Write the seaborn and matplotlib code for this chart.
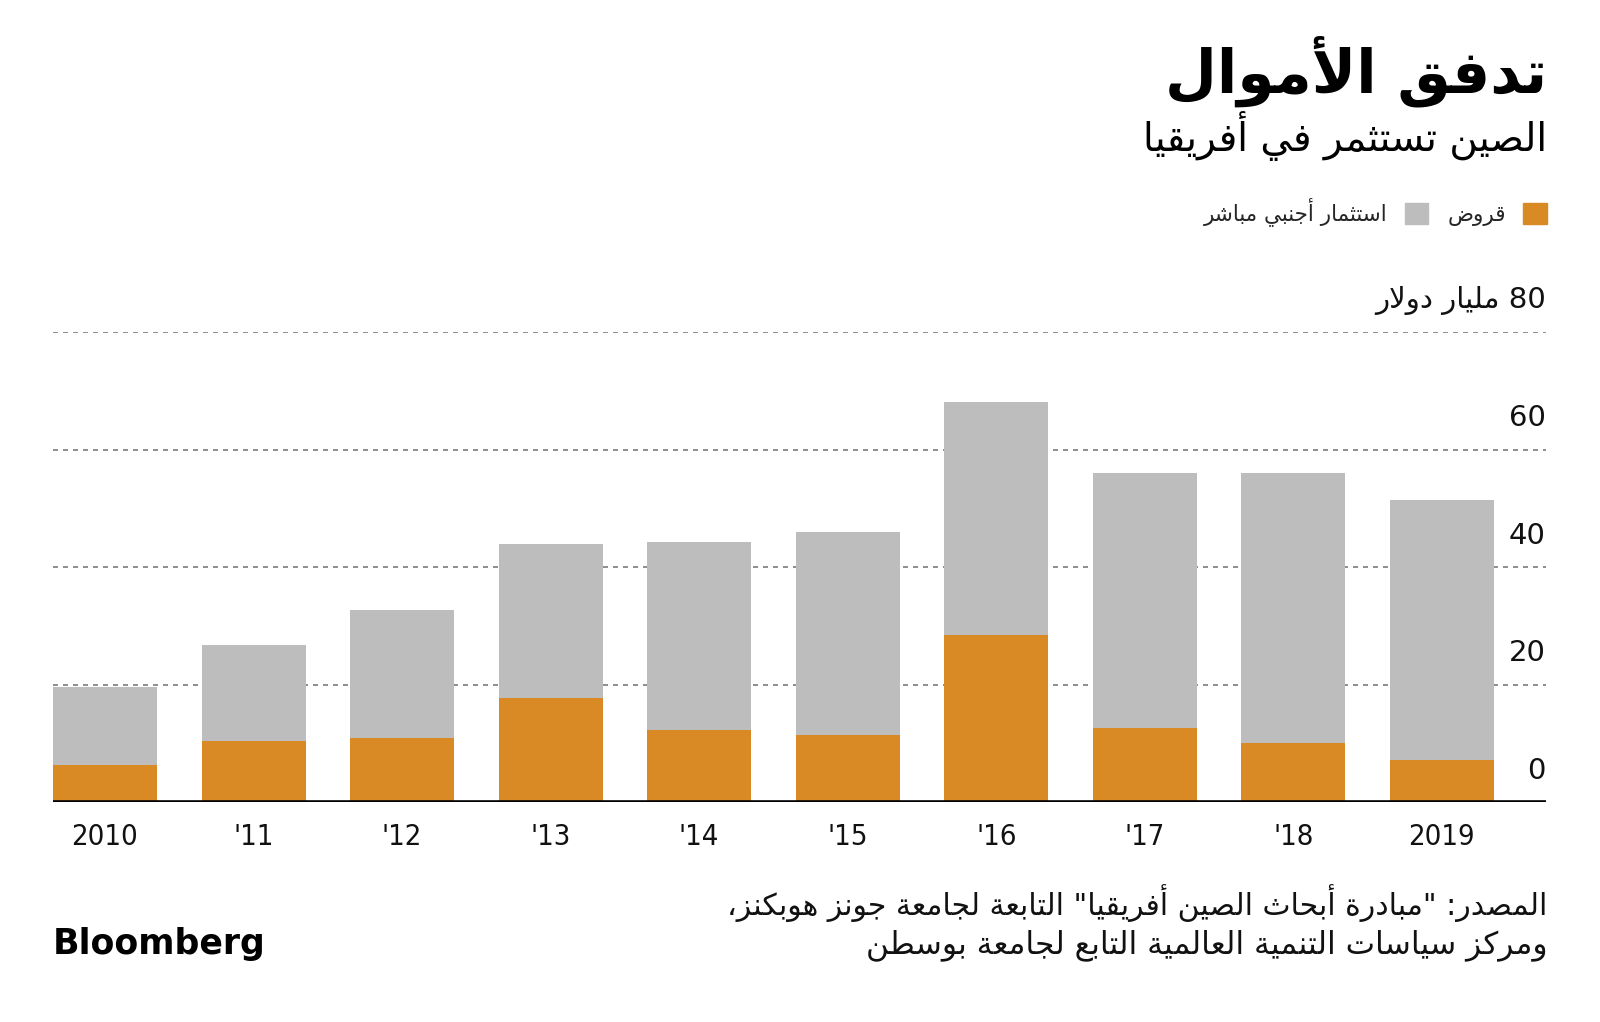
import re
import matplotlib
matplotlib.use('Agg')
import matplotlib.pyplot as plt
import matplotlib.patches as mpatches
import seaborn as sns
import pandas as pd

# data (billion USD)
years = ['2010', "'11", "'12", "'13", "'14", "'15", "'16", "'17", "'18", '2019']
loans = [6.4, 10.5, 10.9, 17.7, 12.3, 11.4, 28.5, 12.6, 10.1, 7.2]
fdi = [13.3, 16.3, 21.8, 26.3, 32.1, 34.6, 39.7, 43.4, 45.9, 44.3]
yticks = [0, 20, 40, 60]

title = 'تدفق الأموال'
subtitle = 'الصين تستثمر في أفريقيا'
lbl_loans = 'قروض'
lbl_fdi = 'استثمار أجنبي مباشر'
unit_label = '80 مليار دولار'
source1 = 'المصدر: "مبادرة أبحاث الصين أفريقيا" التابعة لجامعة جونز هوبكنز،'
source2 = 'ومركز سياسات التنمية العالمية التابع لجامعة بوسطن'

ORANGE = '#D98A24'
GREY = '#BDBDBD'

# --- minimal arabic shaping (matplotlib has no bidi / joining) ---
letters = 'ءآأؤإئابةتثجحخدذرزسشصضطظعغفقكلمنهوىي'
counts = [1, 2, 2, 2, 2, 4, 2, 4, 2, 4, 4, 4, 4, 4, 2, 2, 2, 2, 4, 4, 4, 4,
          4, 4, 4, 4, 4, 4, 4, 4, 4, 4, 4, 2, 2, 4]
FORMS = {}
cp = 0xFE80
for ch, n in zip(letters, counts):
    FORMS[ch] = [chr(cp + k) for k in range(n)]
    cp += n
LAM_ALEF = {'آ': 0xFEF5, 'أ': 0xFEF7, 'إ': 0xFEF9, 'ا': 0xFEFB}


def shape(s):
    out = []
    i = 0
    while i < len(s):
        c = s[i]
        if c not in FORMS:
            out.append(c)
            i += 1
            continue
        prev = s[i - 1] if i > 0 else ''
        nxt = s[i + 1] if i + 1 < len(s) else ''
        jp = prev in FORMS and len(FORMS[prev]) == 4
        if c == 'ل' and nxt in LAM_ALEF:
            out.append(chr(LAM_ALEF[nxt] + (1 if jp else 0)))
            i += 2
            continue
        f = FORMS[c]
        jn = len(f) == 4 and nxt in FORMS and nxt != 'ء'
        if jp and jn:
            out.append(f[3])
        elif jp and len(f) > 1:
            out.append(f[1])
        elif jn:
            out.append(f[2])
        else:
            out.append(f[0])
        i += 1
    return ''.join(out)


def ar(s):
    v = shape(s)[::-1]
    return re.sub(r'[0-9A-Za-z.]+', lambda m: m.group(0)[::-1], v)


sns.set_style('white')
plt.rcParams['font.family'] = ['DejaVu Sans']

df = pd.DataFrame({'year': years, 'loans': loans, 'fdi': fdi})
df['total'] = df['loans'] + df['fdi']

fig = plt.figure(figsize=(16, 10.22), dpi=100)
ax = fig.add_axes([0.0331, 0.2148, 0.9331, 0.4599])

sns.barplot(data=df, x='year', y='total', color=GREY, width=0.7,
            saturation=1, linewidth=0, ax=ax, zorder=2)
sns.barplot(data=df, x='year', y='loans', color=ORANGE, width=0.7,
            saturation=1, linewidth=0, ax=ax, zorder=3)

ax.set_xlim(-0.35, 9.70)
ax.set_ylim(0, 80)
for s in ax.spines.values():
    s.set_visible(False)
ax.set_xlabel('')
ax.set_ylabel('')
ax.set_yticks([])
ax.tick_params(axis='x', length=0, pad=15)
ax.set_xticks(range(len(years)))
ax.set_xticklabels(years, fontsize=21, fontstretch='condensed', color='#111111')

for v in yticks[1:] + [80]:
    ax.axhline(v, color='#7a7a7a', lw=1.2, ls=(0, (3, 3)), zorder=1)
ax.axhline(0, color='black', lw=2.6, zorder=4)

for v in yticks:
    ax.annotate(str(v), xy=(1, v), xycoords=('axes fraction', 'data'),
                xytext=(0, 23), textcoords='offset points', ha='right',
                va='center', fontsize=21, color='#111111')
ax.annotate(ar(unit_label), xy=(1, 80), xycoords=('axes fraction', 'data'),
            xytext=(0, 23), textcoords='offset points', ha='right',
            va='center', fontsize=21, color='#111111')

# titles
fig.text(0.967, 1 - 71 / 1022, ar(title), ha='right', va='center',
         fontsize=43, fontweight='bold', color='black')
fig.text(0.967, 1 - 136 / 1022, ar(subtitle), ha='right', va='center',
         fontsize=28, color='black')

# legend (right to left)
handles = [mpatches.Patch(color=GREY, label=ar(lbl_fdi)),
           mpatches.Patch(color=ORANGE, label=ar(lbl_loans))]
fig.legend(handles=handles, loc='center right',
           bbox_to_anchor=(0.979, 1 - 212 / 1022), ncol=2, frameon=False,
           markerfirst=False, handlelength=1.1, handleheight=1.1,
           handletextpad=0.8, columnspacing=0.9, fontsize=15.5)

# source and logo
fig.text(0.967, 1 - 903 / 1022, ar(source1), ha='right', va='center',
         fontsize=21.5, color='#111111')
fig.text(0.967, 1 - 945 / 1022, ar(source2), ha='right', va='center',
         fontsize=22.5, color='#111111')
fig.text(0.033, 1 - 944 / 1022, 'Bloomberg', ha='left', va='center',
         fontsize=25, fontweight='bold', color='black')

fig.savefig('out.png', dpi=100)
